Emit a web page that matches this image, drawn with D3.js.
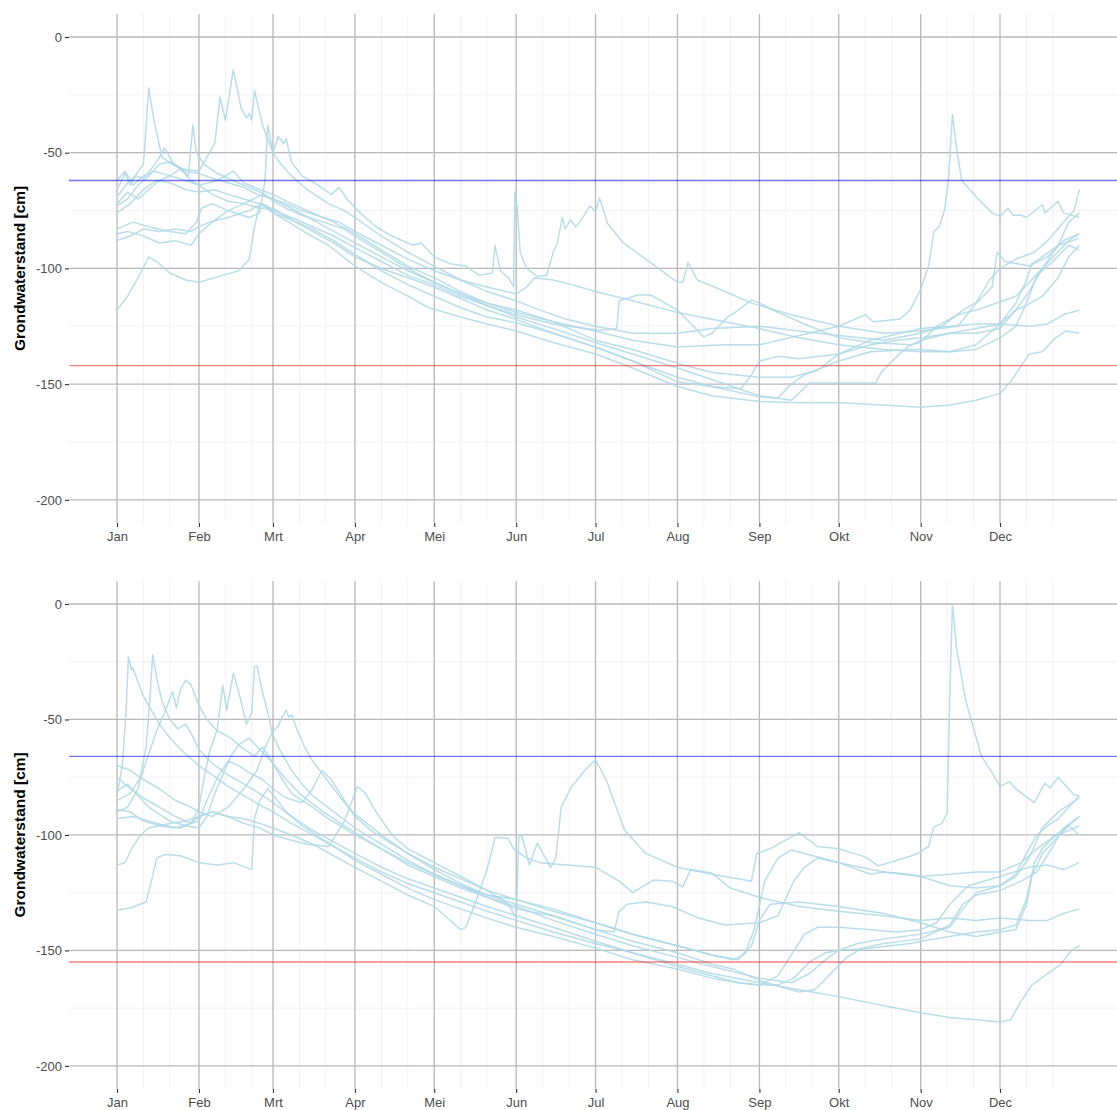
<!DOCTYPE html>
<html>
<head>
<meta charset="utf-8">
<script src="https://cdn.jsdelivr.net/npm/d3@7"></script>
<style>
  html, body { margin: 0; padding: 0; background: #ffffff; }
  svg { display: block; }
</style>
</head>
<body>
<script>
// Month tick labels (Dutch) and y-axis breaks
const monthLabels = ["Jan", "Feb", "Mrt", "Apr", "Mei", "Jun", "Jul", "Aug", "Sep", "Okt", "Nov", "Dec"];
const yTicks = [0, -50, -100, -150, -200];
const yMinorTicks = [-25, -75, -125, -175];
const yTitle = "Grondwaterstand [cm]";

// Reference levels [high, low] for each panel (cm)
const panelALevels = [-62, -142];
const panelBLevels = [-66, -155];

// Groundwater series per year: [day of year, level in cm]
const panelASeries = [
  [[0,-66],[3,-59],[5,-64],[8,-58],[10,-55],[12,-22],[14,-36],[17,-52],[21,-55],[26,-58],[31,-59],[36,-61],[42,-63],[48,-65],[53,-68],[59,-70],[64,-72],[70,-75],[78,-78],[84,-80],[90,-84],[100,-90],[110,-96],[120,-101],[130,-105],[140,-108],[151,-111],[155,-108],[158,-104],[165,-105],[172,-107],[181,-110],[195,-114],[212,-119],[225,-122],[243,-126],[258,-130],[273,-133],[290,-135],[304,-136],[315,-136],[325,-133],[334,-124],[340,-118],[345,-110],[350,-100],[355,-94],[360,-88],[364,-85]],
  [[0,-73],[4,-70],[8,-64],[12,-60],[16,-55],[20,-54],[25,-57],[31,-58],[34,-52],[37,-46],[39,-26],[41,-36],[44,-14],[47,-31],[49,-35],[50,-33],[51,-36],[52,-23],[55,-38],[57,-44],[59,-50],[62,-55],[66,-60],[72,-66],[80,-72],[86,-75],[90,-78],[100,-86],[110,-93],[120,-99],[130,-105],[140,-110],[151,-114],[160,-118],[170,-122],[181,-125],[195,-128],[212,-128],[225,-126],[243,-125],[258,-127],[273,-129],[290,-131],[304,-128],[312,-125],[320,-118],[326,-114],[331,-108],[333,-93],[336,-97],[345,-99],[352,-95],[358,-88],[364,-85]],
  [[0,-83],[6,-80],[12,-82],[20,-84],[26,-85],[30,-80],[32,-74],[36,-72],[42,-75],[50,-78],[54,-76],[56,-62],[57,-38],[59,-50],[61,-43],[63,-46],[64,-44],[66,-54],[70,-60],[76,-64],[81,-68],[84,-65],[87,-70],[92,-76],[98,-82],[104,-86],[112,-90],[115,-89],[120,-95],[126,-98],[132,-99],[137,-103],[142,-102],[143,-90],[145,-101],[148,-104],[150,-108],[150.5,-67],[151.5,-75],[152.5,-93],[155,-100],[159,-103.5],[162.5,-103],[165,-93],[166.5,-89],[168.5,-78],[169.5,-83],[171.5,-79],[173.5,-82],[175,-80],[179,-73],[181,-75.5],[182.5,-69.5],[185.5,-80.5],[191.5,-89],[200,-96],[212,-106],[214,-106],[216,-97.5],[219.5,-105],[226,-108],[240,-115],[255,-120],[273,-125],[290,-128],[304,-127],[318,-125],[325,-115],[330,-105],[334,-100],[340,-96],[347,-93],[352,-88],[358,-80],[362,-75],[364,-66]],
  [[0,-69],[4,-63],[7,-60],[10,-61],[13,-57],[16,-52],[18,-48],[21,-54],[24,-57],[27,-60],[28.7,-38],[30,-50],[33,-55],[38,-59],[44,-62],[50,-65],[56,-68],[59,-71],[64,-74],[70,-77],[78,-80],[86,-83],[90,-86],[100,-93],[110,-100],[120,-106],[130,-111],[140,-116],[151,-120],[165,-124],[181,-126.6],[186,-126.5],[189,-126],[190,-114],[197,-111.5],[202,-111.5],[212,-118],[222,-129.6],[225,-128],[231,-121],[235,-118],[240,-113.6],[243,-115],[250,-119],[260,-124],[273,-130],[285,-132],[300,-133],[304,-132],[310,-125],[318,-120],[325,-118],[330,-116],[340,-112],[350,-100],[356,-90],[360,-80],[364,-76]],
  [[0,-62],[3,-58],[6,-64],[10,-60],[14,-58],[20,-60],[26,-62],[31,-64],[38,-62],[44,-58],[48,-63],[54,-66],[59,-68],[66,-72],[74,-76],[82,-80],[90,-85],[100,-92],[110,-99],[120,-104],[130,-110],[140,-115],[151,-119],[165,-123],[181,-127],[195,-131],[212,-134],[230,-133],[243,-133],[258,-129],[273,-125],[283,-120],[286,-123],[296,-122],[300,-118],[304,-109],[307,-99],[309,-84],[311,-82],[313,-75],[314.5,-62],[316,-33.5],[317.5,-47.5],[319.5,-62],[325,-69],[331,-76],[334,-77.5],[337,-74],[339,-77],[342,-77],[344,-78],[350,-72.5],[351,-76],[356,-71],[358,-76],[364,-78]],
  [[0,-118],[4,-112],[8,-104],[12,-95],[15,-97],[20,-102],[26,-105],[31,-106],[40,-103],[46,-101],[50,-96],[52,-82],[54,-72],[57,-73],[59,-76],[65,-80],[72,-85],[80,-90],[90,-99],[100,-106],[110,-112],[118,-117],[130,-121],[140,-124],[151,-127],[165,-132],[181,-137],[195,-143],[212,-151],[225,-155],[243,-157.5],[258,-158],[273,-158],[290,-159],[304,-160],[315,-159],[325,-157],[334,-154],[338,-149],[345,-137],[350,-136],[355,-130],[359,-127],[364,-128]],
  [[0,-88],[5,-86],[10,-83],[16,-84],[22,-83],[28,-84],[31,-82],[35,-80],[42,-78],[50,-75],[55,-72],[59,-75],[66,-78],[74,-82],[82,-86],[90,-91],[100,-97],[110,-103],[120,-107],[130,-112],[140,-116],[151,-121],[165,-126],[181,-132],[195,-137],[212,-143],[225,-148],[243,-155],[255,-157],[262,-149.5],[287,-149.5],[289,-145],[295,-138],[299,-134],[304,-131],[315,-128],[325,-126],[334,-124],[340,-115],[344,-105],[346,-98],[350,-95],[356,-90],[364,-87]],
  [[0,-76],[5,-72],[10,-66],[15,-62],[20,-63],[26,-66],[31,-67],[37,-66],[42,-68],[48,-70],[54,-72],[59,-76],[66,-79],[74,-83],[82,-88],[90,-94],[100,-101],[110,-107],[120,-112],[130,-117],[140,-121],[151,-123.5],[165,-128],[181,-134],[195,-140],[212,-147],[225,-151],[243,-155.5],[250,-156],[255,-150],[260,-146],[273,-140],[285,-136],[300,-135],[304,-135],[315,-136],[325,-135],[334,-130],[340,-125],[344,-115],[348,-103],[354,-97],[360,-90],[364,-92]],
  [[0,-85],[4,-84],[10,-86],[16,-89],[22,-88],[28,-90],[31,-85],[36,-80],[42,-75],[48,-72],[55,-68],[59,-70],[66,-74],[74,-79],[82,-84],[90,-89],[100,-95],[110,-101],[120,-106],[130,-111],[140,-115],[151,-118],[165,-123],[181,-131],[195,-135],[212,-141],[225,-145],[243,-147],[255,-147],[265,-144],[273,-137],[285,-131],[300,-127],[304,-126],[315,-125],[325,-124],[334,-124],[345,-125],[352,-124],[358,-120],[364,-118]],
  [[0,-72],[4,-67],[8,-70],[12,-66],[16,-62],[20,-60],[24,-57],[28,-62],[31,-64],[36,-68],[42,-71],[48,-72],[54,-74],[59,-74],[66,-79],[74,-84],[82,-89],[90,-95],[100,-100],[110,-104],[120,-108],[130,-113],[140,-118],[151,-122],[165,-128],[181,-134],[195,-140],[212,-149],[225,-151],[236,-152],[240,-146],[243,-140],[250,-138],[258,-139],[273,-137],[285,-133],[295,-131],[304,-130],[315,-128],[325,-128],[334,-126],[340,-118],[344,-116],[350,-112],[356,-104],[360,-95],[364,-90]]
];

const panelBSeries = [
  [[0,-83],[2,-70],[3.5,-45],[4.3,-23],[5.5,-28.6],[6,-27.7],[8,-34],[10,-40],[13,-46],[16,-52],[20,-58],[25,-64],[31,-70],[36,-74],[42,-79],[48,-83],[54,-87],[59,-90],[66,-95],[74,-100],[82,-105],[90,-110],[100,-116],[110,-121],[120,-125],[130,-129],[140,-133],[151,-137],[165,-142],[181,-147],[195,-151],[212,-157],[225,-161],[235,-164],[243,-165],[250,-165],[256,-162],[262,-155],[268,-151],[273,-150],[285,-149],[300,-147],[304,-146],[315,-144],[325,-142],[334,-141],[340,-139],[344,-128],[347,-112],[350,-106],[355,-100],[360,-96],[364,-92]],
  [[0,-90],[4,-88],[8,-80],[11,-62],[12.5,-40],[13.5,-22],[15,-32],[17,-42],[20,-50],[23,-54],[26,-52],[29,-58],[31,-63],[36,-69],[42,-74],[48,-78],[54,-82],[59,-86],[66,-92],[74,-98],[82,-103],[90,-108],[100,-114],[110,-119],[120,-123],[130,-127],[140,-131],[151,-135],[165,-140],[181,-146],[195,-151],[212,-156],[225,-160],[243,-164],[258,-167],[273,-170],[290,-174],[304,-177],[315,-179],[325,-180],[334,-181],[338,-180],[342,-172],[346,-165],[352,-160],[357,-156],[361,-150],[364,-148]],
  [[0,-93],[6,-92],[12,-94],[18,-96],[24,-97],[28,-95],[31,-88],[33,-75],[35,-64],[38,-54],[40,-35],[41.5,-46],[44,-30],[46,-38],[49,-52],[51,-47],[52,-27],[53,-27],[55,-38],[57,-47],[59,-57],[62,-64],[66,-72],[70,-78],[74,-83],[82,-90],[90,-97],[100,-104],[110,-111],[120,-117],[130,-122],[140,-127],[151,-131],[165,-137],[181,-143],[195,-148],[212,-153],[225,-157],[243,-162],[255,-164],[262,-160],[268,-154],[273,-150],[280,-147],[290,-145],[304,-143],[315,-140],[320,-132],[325,-125],[334,-122],[340,-118],[345,-110],[350,-97],[356,-90],[364,-84]],
  [[0,-85],[5,-82],[9,-75],[12,-65],[15,-55],[18,-47],[21,-38],[22.5,-45],[24,-37],[26,-33],[28,-35],[31,-44],[34,-50],[38,-55],[43,-58],[47,-62],[52,-66],[55,-62],[58,-67],[62,-75],[66,-82],[70,-85],[74,-88],[80,-93],[86,-97],[90,-100],[100,-106],[110,-112],[120,-117],[130,-122],[140,-126],[151,-128],[165,-132],[181,-138],[195,-143],[212,-148],[225,-152],[233,-154],[237,-152],[240,-148],[243,-137],[247,-130],[258,-129],[273,-131],[290,-134],[304,-138],[315,-142],[325,-144],[334,-142],[340,-141],[344,-130],[346,-118],[350,-108],[355,-102],[360,-96],[364,-100]],
  [[0,-70],[5,-72],[10,-76],[16,-80],[22,-85],[28,-88],[31,-90],[36,-92],[42,-88],[48,-80],[53,-72],[56,-62],[59,-55],[61,-53],[62,-50],[64,-46],[65,-49],[66,-48],[68,-54],[71,-62],[74,-68],[78,-74],[82,-80],[86,-86],[90,-91],[100,-100],[110,-108],[120,-114],[130,-119],[140,-124],[151,-128],[165,-133],[181,-138],[195,-143],[212,-148],[225,-152],[235,-154],[238,-150],[241,-141],[245,-120],[250,-110],[255,-106.5],[260,-108],[273,-112],[290,-116],[304,-118],[315,-117],[325,-116],[334,-116],[342,-112],[348,-106],[354,-101],[360,-98],[364,-96]],
  [[0,-75],[5,-80],[10,-84],[16,-88],[22,-92],[28,-95],[31,-94],[34,-85],[38,-75],[42,-68],[46,-70],[50,-73],[55,-76],[59,-80],[64,-84],[70,-86],[74,-80],[77.5,-72],[81,-76],[86,-85],[90,-92],[96,-98],[100,-101],[110,-108],[120,-115],[130,-121],[140,-126],[151,-130],[165,-135],[181,-141],[195,-146],[212,-151],[225,-156],[233,-158],[243,-163],[258,-168],[264,-167],[270,-160],[276,-153],[282,-149],[290,-147],[304,-145],[315,-139],[320,-130],[325,-126],[334,-124],[342,-120],[348,-116],[354,-105],[358,-97],[364,-92]],
  [[0,-89],[5,-90],[10,-94],[16,-96],[22,-97],[28,-95],[31,-92],[36,-90],[42,-92],[48,-95],[54,-97],[59,-100],[65,-102],[72,-104],[80,-105],[86,-94],[91,-79],[94,-82],[98,-90],[104,-100],[110,-106],[120,-112],[130,-118],[140,-124],[148,-130],[150,-134],[151,-136],[152,-101],[153,-100],[156,-113],[159,-103.5],[164,-114],[166,-110],[168,-88],[172,-79],[177,-72],[181,-67.5],[185,-76],[192,-98],[200,-108],[212,-114],[225,-117],[235,-119],[240,-120],[242,-108],[247,-106],[258,-99],[265,-105],[273,-106],[283,-109.5],[288,-113.4],[298,-110],[303,-108],[307,-105],[309,-96.5],[312,-95],[314,-90.5],[315,-40],[316,0],[317.5,-18.6],[321,-41.6],[327,-66],[331,-73],[334,-79],[337.5,-77],[340.5,-80.5],[347,-86],[351,-77.5],[353,-79.6],[356,-75],[362,-82.7],[364,-83]],
  [[0,-113],[3,-112],[6,-105],[9,-100],[12,-97],[16,-96],[20,-95],[26,-94],[31,-92],[36,-90],[42,-92],[48,-93],[54,-95],[59,-97],[66,-100],[74,-104],[82,-109],[90,-114],[100,-120],[110,-126],[120,-131],[128,-139],[130,-141],[132,-140],[136,-128],[140,-115],[143,-101],[148,-101.5],[150,-106],[155,-110],[160,-112],[170,-113],[181,-114],[190,-120],[195,-125],[203,-119.5],[210,-120],[214,-122.5],[217,-115],[225,-116.5],[232,-123],[243,-127],[258,-131],[273,-133],[290,-135],[304,-137],[315,-136],[325,-137],[334,-136],[345,-137],[352,-137],[358,-134],[364,-132]],
  [[0,-132.5],[5,-131.6],[11,-129],[13,-120],[15,-110],[18,-108.5],[24,-109],[31,-112],[38,-113],[44,-112],[51,-115],[52,-93],[54,-85],[57,-80],[60,-84],[64,-90],[70,-96],[78,-102],[86,-108],[90,-111],[100,-117],[110,-123],[120,-128],[130,-132],[140,-136],[151,-140],[165,-144],[181,-149],[195,-154],[212,-158],[225,-162],[235,-164],[243,-165],[250,-161],[255,-152],[260,-143],[265,-140],[273,-140],[285,-141],[295,-142],[304,-141],[310,-138],[315,-130],[322,-122],[334,-118],[345,-114],[352,-113],[358,-115],[364,-112]],
  [[0,-81],[4,-78],[8,-83],[12,-88],[16,-91],[20,-94],[26,-96],[31,-97],[34,-92],[37,-82],[40,-74],[43,-66],[46,-61],[50,-58],[54,-63],[59,-69],[64,-76],[70,-83],[78,-90],[86,-96],[90,-99],[100,-106],[110,-113],[120,-118],[130,-123],[140,-127],[151,-132],[160,-134],[165,-135],[181,-141],[188,-142],[190,-133],[193,-130],[200,-129],[210,-131],[220,-136],[230,-139],[243,-138],[250,-135],[256,-120],[260,-114],[265,-110],[273,-112],[285,-117],[290,-116],[300,-117],[304,-118],[315,-122],[325,-123],[334,-122],[340,-117],[344,-108],[348,-100],[352,-96],[356,-93],[360,-88],[364,-83]]
];

// ---- layout ----
const width = 1117, height = 1110;
const plotLeft = 69, plotRight = 1117;
const panels = [
  { series: panelASeries, levels: panelALevels, top: 13.85, bottom: 523 },
  { series: panelBSeries, levels: panelBLevels, top: 580.9, bottom: 1089 }
];

const year = 2021;
const jan1 = new Date(year, 0, 1);
const toDate = d => new Date(jan1.getTime() + d * 864e5);

const x = d3.scaleTime()
  .domain([jan1, new Date(year, 11, 1)])
  .range([117, 1000]);

const monthStarts = d3.range(12).map(m => new Date(year, m, 1));
const minorDates = d3.range(12).flatMap(m => [new Date(year, m, 11), new Date(year, m, 21)]);

const svg = d3.select("body").append("svg")
  .attr("width", width).attr("height", height)
  .attr("viewBox", `0 0 ${width} ${height}`);

svg.append("rect").attr("width", width).attr("height", height).attr("fill", "#ffffff");

const fontFamily = '"Liberation Sans", Arial, Helvetica, sans-serif';
const majorGrid = "#b8b8b8";
const minorGrid = "#ececec";

panels.forEach((p, i) => {
  const y = d3.scaleLinear().domain([-210, 10]).range([p.bottom, p.top]);
  const g = svg.append("g").attr("class", "panel-" + i);

  const clipId = "clip-" + i;
  svg.append("clipPath").attr("id", clipId)
    .append("rect").attr("x", plotLeft).attr("y", p.top)
    .attr("width", plotRight - plotLeft).attr("height", p.bottom - p.top);

  const grid = g.append("g").attr("clip-path", `url(#${clipId})`);

  // minor grid
  grid.selectAll("line.minor-x").data(minorDates).join("line")
    .attr("x1", d => x(d)).attr("x2", d => x(d))
    .attr("y1", p.top).attr("y2", p.bottom)
    .attr("stroke", minorGrid).attr("stroke-width", 0.7);
  grid.selectAll("line.minor-y").data(yMinorTicks).join("line")
    .attr("x1", plotLeft).attr("x2", plotRight)
    .attr("y1", d => y(d)).attr("y2", d => y(d))
    .attr("stroke", minorGrid).attr("stroke-width", 0.7);

  // major grid
  grid.selectAll("line.major-y").data(yTicks).join("line")
    .attr("x1", plotLeft).attr("x2", plotRight)
    .attr("y1", d => y(d)).attr("y2", d => y(d))
    .attr("stroke", majorGrid).attr("stroke-width", 1.3);
  grid.selectAll("line.major-x").data(monthStarts).join("line")
    .attr("x1", d => x(d)).attr("x2", d => x(d))
    .attr("y1", p.top).attr("y2", p.bottom)
    .attr("stroke", majorGrid).attr("stroke-width", 1.3);

  // series
  const line = d3.line()
    .x(d => x(toDate(d[0])))
    .y(d => y(d[1]));
  const lines = g.append("g").attr("clip-path", `url(#${clipId})`);
  lines.selectAll("path").data(p.series).join("path")
    .attr("d", line)
    .attr("fill", "none")
    .attr("stroke", "#add8e6")
    .attr("stroke-opacity", 0.85)
    .attr("stroke-width", 1.5)
    .attr("stroke-linejoin", "round");

  // reference levels
  const levelColors = ["rgba(0,0,255,0.55)", "rgba(255,0,0,0.5)"];
  lines.selectAll("line.level").data(p.levels).join("line")
    .attr("x1", plotLeft).attr("x2", plotRight)
    .attr("y1", d => y(d)).attr("y2", d => y(d))
    .attr("stroke", (d, j) => levelColors[j])
    .attr("stroke-width", 1.3);

  // axes
  const yAxis = d3.axisLeft(y).tickValues(yTicks).tickSize(4).tickPadding(3)
    .tickFormat(d => String(d));
  const ya = g.append("g").attr("transform", `translate(${plotLeft},0)`).call(yAxis);
  ya.select(".domain").remove();
  ya.selectAll(".tick line").attr("stroke", "#333333").attr("stroke-width", 1.1);
  ya.selectAll(".tick text").attr("fill", "#4d4d4d")
    .style("font-size", "13px").style("font-family", fontFamily);

  const xAxis = d3.axisBottom(x).tickValues(monthStarts).tickSize(4).tickPadding(5)
    .tickFormat((d, k) => monthLabels[k]);
  const xa = g.append("g").attr("transform", `translate(0,${p.bottom})`).call(xAxis);
  xa.select(".domain").remove();
  xa.selectAll(".tick line").attr("stroke", "#333333").attr("stroke-width", 1.1);
  xa.selectAll(".tick text").attr("fill", "#4d4d4d")
    .style("font-size", "13px").style("font-family", fontFamily);

  // y title
  g.append("text")
    .attr("transform", `translate(25,${(p.top + p.bottom) / 2}) rotate(-90)`)
    .attr("text-anchor", "middle")
    .style("font-family", fontFamily)
    .style("font-size", "15.5px")
    .style("font-weight", "bold")
    .attr("fill", "#000000")
    .text(yTitle);
});
</script>
</body>
</html>
